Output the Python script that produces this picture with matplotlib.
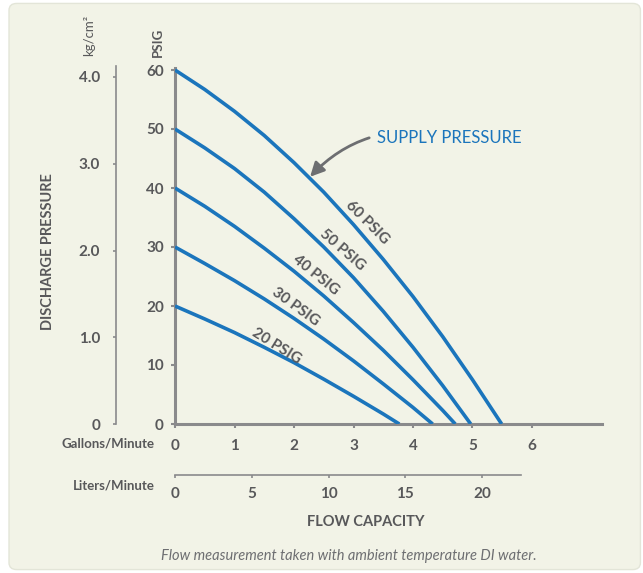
import matplotlib.pyplot as plt
from matplotlib.patches import FancyBboxPatch

plt.rcParams['font.family'] = ['Lato', 'DejaVu Sans']

# flow in gallons/minute and discharge pressure in PSIG
gpm = {
    60: [0, 0.5, 1.0, 1.5, 2.0, 2.5, 3.0, 3.5, 4.0, 4.5, 5.0, 5.49],
    50: [0, 0.5, 1.0, 1.5, 2.0, 2.5, 3.0, 3.5, 4.0, 4.5, 4.97],
    40: [0, 0.5, 1.0, 1.5, 2.0, 2.5, 3.0, 3.5, 4.0, 4.5, 4.71],
    30: [0, 0.5, 1.0, 1.5, 2.0, 2.5, 3.0, 3.5, 4.0, 4.33],
    20: [0, 0.5, 1.0, 1.5, 2.0, 2.5, 3.0, 3.5, 3.77],
}
psig = {
    60: [60, 56.7, 53.0, 48.9, 44.3, 39.3, 33.8, 27.9, 21.6, 14.8, 7.5, 0],
    50: [50, 46.8, 43.3, 39.3, 34.8, 30.0, 24.8, 19.1, 13.0, 6.5, 0],
    40: [40, 36.9, 33.5, 29.8, 25.9, 21.7, 17.2, 12.5, 7.5, 2.3, 0],
    30: [30, 27.2, 24.3, 21.2, 17.9, 14.4, 10.7, 6.8, 2.8, 0],
    20: [20, 17.8, 15.5, 13.0, 10.4, 7.6, 4.7, 1.7, 0],
}
# label anchor (gpm, psig) and angle for each curve
label_pos = {60: (3.23, 34.1, -45), 50: (2.82, 29.5, -41), 40: (2.37, 25.3, -39),
             30: (2.03, 19.8, -36), 20: (1.71, 13.2, -32)}

psig_ticks = [0, 10, 20, 30, 40, 50, 60]
kg_ticks = [0, 1.0, 2.0, 3.0, 4.0]
kg_labels = ['0', '1.0', '2.0', '3.0', '4.0']
gpm_ticks = [0, 1, 2, 3, 4, 5, 6]
lpm_ticks = [0, 5, 10, 15, 20]

BG = '#f2f3e7'
GRAY = '#58585a'
AXC = '#8a8a8c'
BLUE = '#1b75bc'

fig = plt.figure(figsize=(6.43, 5.73), dpi=100)
fig.patch.set_facecolor('white')
fig.patches.append(FancyBboxPatch((0.014, 0.006), 0.982, 0.988,
                                  boxstyle='round,pad=0,rounding_size=0.012',
                                  transform=fig.transFigure, facecolor=BG,
                                  edgecolor='#e3e5d8', linewidth=1.0, zorder=-10))

W, H = 643, 573
def rect(left, top, right, bottom):
    return [left / W, 1 - bottom / H, (right - left) / W, (bottom - top) / H]

# main chart
ax = fig.add_axes(rect(175, 68, 602, 424))
ax.set_facecolor('none')
for p in gpm:
    ax.plot(gpm[p], psig[p], color=BLUE, lw=2.6, solid_capstyle='butt', zorder=3)
    x, y, ang = label_pos[p]
    ax.text(x, y, f'{p} PSIG', rotation=ang, rotation_mode='anchor',
            ha='center', va='center', fontsize=11, color=GRAY, fontweight='bold')
ax.set_xlim(0, 427 / 59.5)
ax.set_ylim(0, 356 / 5.9)
for s in ['top', 'right']:
    ax.spines[s].set_visible(False)
for s in ['left', 'bottom']:
    ax.spines[s].set_color(AXC)
    ax.spines[s].set_linewidth(2.2)
ax.set_xticks(gpm_ticks)
ax.set_xticklabels([str(t) for t in gpm_ticks])
ax.set_yticks(psig_ticks)
ax.set_yticklabels([str(t) for t in psig_ticks])
ax.tick_params(axis='both', length=3, width=1.5, color=AXC, labelcolor=GRAY, labelsize=11)
ax.tick_params(axis='x', pad=8)
ax.tick_params(axis='y', pad=5)
for lab in ax.get_xticklabels() + ax.get_yticklabels():
    lab.set_fontweight('bold')

ax.annotate('SUPPLY PRESSURE', xy=(2.27, 41.9), xytext=(3.40, 48.5),
            ha='left', va='center', fontsize=12, color=BLUE,
            arrowprops=dict(arrowstyle='-|>,head_length=0.7,head_width=0.35',
                            color='#6d6e71', lw=2,
                            connectionstyle='arc3,rad=0.3',
                            shrinkA=4, shrinkB=0))

# kg/cm2 axis
axk = fig.add_axes(rect(116, 66, 117, 424))
axk.set_facecolor('none')
axk.set_ylim(0, 358 / 86.75)
axk.set_xticks([])
for s in ['top', 'right', 'bottom']:
    axk.spines[s].set_visible(False)
axk.spines['left'].set_color(AXC)
axk.spines['left'].set_linewidth(1.2)
axk.set_yticks(kg_ticks)
axk.set_yticklabels(kg_labels)
axk.tick_params(axis='y', length=2.5, width=1.2, color=AXC, labelcolor=GRAY,
                labelsize=11, pad=9)
for lab in axk.get_yticklabels():
    lab.set_fontweight('bold')

# liters/minute axis
axl = fig.add_axes(rect(175, 474, 521, 475))
axl.set_facecolor('none')
axl.set_xlim(0, 346 / 15.35)
axl.set_yticks([])
for s in ['top', 'right', 'left']:
    axl.spines[s].set_visible(False)
axl.spines['bottom'].set_color(AXC)
axl.spines['bottom'].set_linewidth(1.2)
axl.set_xticks(lpm_ticks)
axl.set_xticklabels([str(t) for t in lpm_ticks])
axl.tick_params(axis='x', length=2.5, width=1.2, color=AXC, labelcolor=GRAY,
                labelsize=11, pad=6)
for lab in axl.get_xticklabels():
    lab.set_fontweight('bold')

# texts
fig.text(48 / W, 1 - 252 / H, 'DISCHARGE PRESSURE', rotation=90, ha='center', va='center',
         fontsize=10.5, color=GRAY, fontweight='bold')
fig.text(89 / W, 1 - 35 / H, 'kg/cm²', rotation=90, ha='center', va='center',
         fontsize=9.5, color=GRAY)
fig.text(158 / W, 1 - 42 / H, 'PSIG', rotation=90, ha='center', va='center',
         fontsize=9.5, color=GRAY, fontweight='bold')
fig.text(155 / W, 1 - 444 / H, 'Gallons/Minute', ha='right', va='center',
         fontsize=9.5, color=GRAY, fontweight='bold')
fig.text(155 / W, 1 - 486 / H, 'Liters/Minute', ha='right', va='center',
         fontsize=9.5, color=GRAY, fontweight='bold')
fig.text(366 / W, 1 - 522 / H, 'FLOW CAPACITY', ha='center', va='center',
         fontsize=10.5, color=GRAY, fontweight='bold')
fig.text(349 / W, 1 - 556 / H, 'Flow measurement taken with ambient temperature DI water.',
         ha='center', va='center', fontsize=10.5, color='#6d6e71', style='italic')

fig.savefig('out.png', dpi=100, facecolor=fig.get_facecolor())
